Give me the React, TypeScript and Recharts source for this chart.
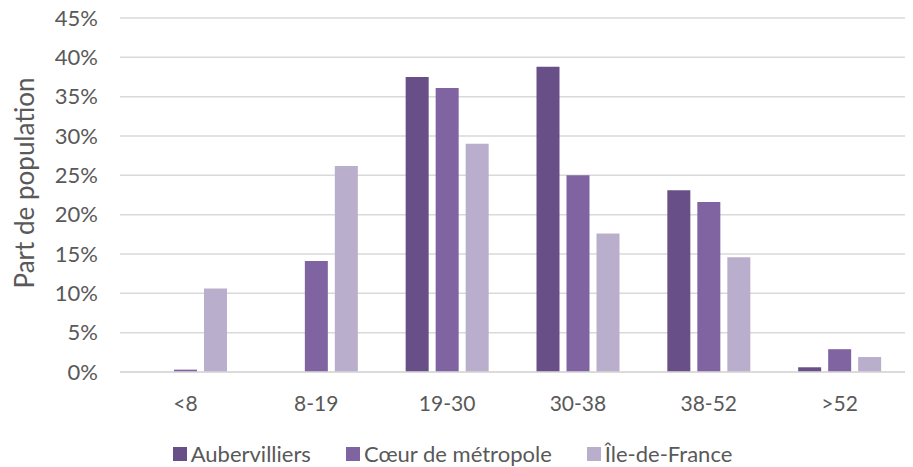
import React from "react";
import {
  Bar,
  BarChart,
  CartesianGrid,
  Legend,
  XAxis,
  YAxis,
} from "recharts";

// Tranches (en m²) et part de population par territoire, en %
const categories = ["<8", "8-19", "19-30", "30-38", "38-52", ">52"];
const aubervilliers = [0, 0, 37.5, 38.8, 23.1, 0.6];
const coeurMetropole = [0.3, 14.1, 36.1, 25.0, 21.6, 2.9];
const ileDeFrance = [10.6, 26.2, 29.0, 17.6, 14.6, 1.9];
const yTicks = [0, 5, 10, 15, 20, 25, 30, 35, 40, 45];

const SERIES = [
  { key: "aub", name: "Aubervilliers", color: "#694f87" },
  { key: "coeur", name: "Cœur de métropole", color: "#8064a2" },
  { key: "idf", name: "Île-de-France", color: "#b9aecb" },
];

const data = categories.map((name, i) => ({
  name,
  aub: aubervilliers[i],
  coeur: coeurMetropole[i],
  idf: ileDeFrance[i],
}));

const FONT = "Lato, 'Open Sans', sans-serif";
const TEXT = "#595959";

const renderLegend = () => (
  <div
    style={{
      display: "flex",
      justifyContent: "center",
      gap: 35,
      height: 26,
      lineHeight: "26px",
      fontFamily: FONT,
      fontSize: 22,
      color: TEXT,
    }}
  >
    {SERIES.map((s) => (
      <div key={s.key} style={{ display: "flex", alignItems: "center" }}>
        <span
          style={{
            display: "inline-block",
            width: 14,
            height: 14,
            background: s.color,
            marginRight: 4,
          }}
        />
        {s.name}
      </div>
    ))}
  </div>
);

const App: React.FC = () => {
  return (
    <div style={{ width: 913, height: 467, background: "#fff" }}>
      <style>{"body{margin:0}"}</style>
      <BarChart
        width={913}
        height={467}
        data={data}
        margin={{ top: 18, right: 8, bottom: 19, left: 0 }}
        barSize={23}
        barGap={7}
      >
        <CartesianGrid vertical={false} stroke="#d9d9d9" strokeWidth={1.5} />
        <XAxis
          dataKey="name"
          axisLine={{ stroke: "#d9d9d9", strokeWidth: 1.5 }}
          tickLine={false}
          tickSize={0}
          tickMargin={24}
          height={50}
          tick={{ fill: TEXT, fontSize: 21, fontFamily: FONT }}
        />
        <YAxis
          width={120}
          domain={[0, 45]}
          ticks={yTicks}
          interval={0}
          axisLine={false}
          tickLine={false}
          tickSize={0}
          tickMargin={22}
          tickFormatter={(v: number) => `${v}%`}
          tick={{ fill: TEXT, fontSize: 22, fontFamily: FONT }}
          label={{
            content: () => (
              <text
                x={24}
                y={183}
                transform="rotate(-90 24 183)"
                textAnchor="middle"
                dominantBaseline="central"
                fill={TEXT}
                fontSize={26}
                fontFamily={FONT}
              >
                Part de population
              </text>
            ),
          }}
        />
        <Legend
          verticalAlign="bottom"
          content={renderLegend}
          wrapperStyle={{ bottom: 0 }}
        />
        {SERIES.map((s) => (
          <Bar
            key={s.key}
            dataKey={s.key}
            name={s.name}
            fill={s.color}
            isAnimationActive={false}
          />
        ))}
      </BarChart>
    </div>
  );
};

export default App;
